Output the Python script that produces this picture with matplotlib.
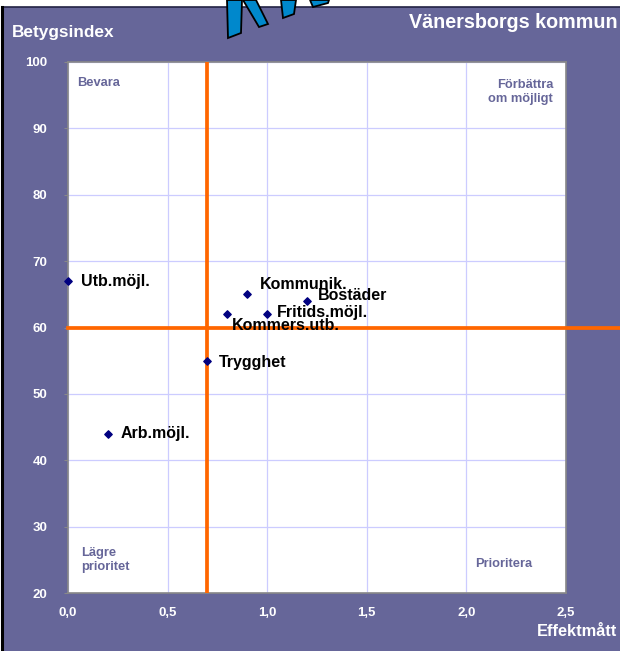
import matplotlib
matplotlib.use('Agg')
import matplotlib.pyplot as plt
from matplotlib.patches import Rectangle, Polygon

plt.rcParams['font.family'] = ['Liberation Sans', 'DejaVu Sans']

# data
labels = ['Utb.möjl.', 'Arb.möjl.', 'Trygghet', 'Kommers.utb.', 'Kommunik.', 'Fritids.möjl.', 'Bostäder']
effekt = [0.0, 0.2, 0.7, 0.8, 0.9, 1.0, 1.2]
betyg = [67, 44, 55, 62, 65, 62, 64]
# label offsets in points (dx, dy)
offsets = [(9, 0), (9, 0), (8, -1), (3, -8), (9, 7), (7, 1), (8, 4)]

xticks = [0.0, 0.5, 1.0, 1.5, 2.0, 2.5]
yticks = [20, 30, 40, 50, 60, 70, 80, 90, 100]
x_split = 0.7
y_split = 60

bg = '#666699'
W, H = 620, 651

fig = plt.figure(figsize=(6.2, 6.51), dpi=100, facecolor='white')

# background panel
fig.add_artist(Rectangle((3 / W, 0), 1, 1 - 7 / H, transform=fig.transFigure,
                         facecolor=bg, edgecolor='none', zorder=-5))
fig.add_artist(plt.Line2D([3 / W, 1], [1 - 6.5 / H, 1 - 6.5 / H], color='#222244', lw=1.2, zorder=-4))
fig.add_artist(plt.Line2D([1.5 / W, 1.5 / W], [0, 1 - 6.5 / H], color='black', lw=2.2, zorder=-4))

# cut-off logo at top
logo = [
    [(227, 0), (242, 0), (241, 33), (228, 38)],
    [(243, 0), (256, 0), (268, 24), (259, 27)],
    [(281, 0), (296, 0), (294, 14), (283, 18)],
    [(310, 0), (329, 0), (328, 3), (313, 7)],
]
for poly in logo:
    pts = [(px / W, 1 - py / H) for px, py in poly]
    fig.add_artist(Polygon(pts, closed=True, transform=fig.transFigure,
                           facecolor='#0088cc', edgecolor='black', lw=1.3, zorder=5))

ax = fig.add_axes([68 / W, 58 / H, 498 / W, 531 / H])
ax.set_zorder(1)
ax.set_facecolor('white')
ax.set_xlim(0, 2.5)
ax.set_ylim(20, 100)
ax.set_xticks(xticks)
ax.set_yticks(yticks)
ax.set_xticklabels([f'{v:.1f}'.replace('.', ',') for v in xticks])
ax.grid(True, color='#ccccff', lw=0.9)
ax.set_axisbelow(True)
for s in ax.spines.values():
    s.set_color('#888888')
    s.set_linewidth(1.2)
ax.tick_params(axis='x', length=0, pad=10, colors='white', labelsize=9.5)
ax.tick_params(axis='y', length=3, color='#888888', pad=12, labelcolor='white', labelsize=9.5)
for t in ax.get_xticklabels() + ax.get_yticklabels():
    t.set_fontweight('bold')

# quadrant split lines
ax.axvline(x_split, color='#ff6600', lw=2.7, zorder=3)
ax.axhline(y_split, xmin=0, xmax=(620 - 68) / 498, color='#ff6600', lw=2.7, zorder=3, clip_on=False)

ax.scatter(effekt, betyg, marker='D', s=14, color='#000080', zorder=4, clip_on=False)
for lab, x, y, (dx, dy) in zip(labels, effekt, betyg, offsets):
    ax.annotate(lab, (x, y), xytext=(dx, dy), textcoords='offset points',
                ha='left', va='center', fontsize=11.5, fontweight='bold', color='black', zorder=5)

# quadrant texts
qc = bg
qs = 9.3
ax.text(9 / 498, 1 - 21 / 531, 'Bevara', transform=ax.transAxes, color=qc,
        fontsize=qs, fontweight='bold', ha='left', va='center')
ax.text((553 - 68) / 498, 1 - 30 / 531, 'Förbättra\nom möjligt', transform=ax.transAxes,
        color=qc, fontsize=qs, fontweight='bold', ha='right', va='center', linespacing=1.2)
ax.text((81 - 68) / 498, (593 - 560) / 531, 'Lägre\nprioritet', transform=ax.transAxes,
        color=qc, fontsize=qs, fontweight='bold', ha='left', va='center', linespacing=1.2)
ax.text((475 - 68) / 498, (593 - 564) / 531, 'Prioritera', transform=ax.transAxes,
        color=qc, fontsize=qs, fontweight='bold', ha='left', va='center')

# titles
fig.text(12 / W, 1 - 33 / H, 'Betygsindex', color='white', fontsize=12.4, fontweight='bold',
         ha='left', va='center')
fig.text(618 / W, 1 - 22 / H, 'Vänersborgs kommun', color='white', fontsize=14.2,
         fontweight='bold', ha='right', va='center')
fig.text(617 / W, 1 - 632 / H, 'Effektmått', color='white', fontsize=11.8, fontweight='bold',
         ha='right', va='center')

fig.savefig('out.png', dpi=100, facecolor=fig.get_facecolor())
